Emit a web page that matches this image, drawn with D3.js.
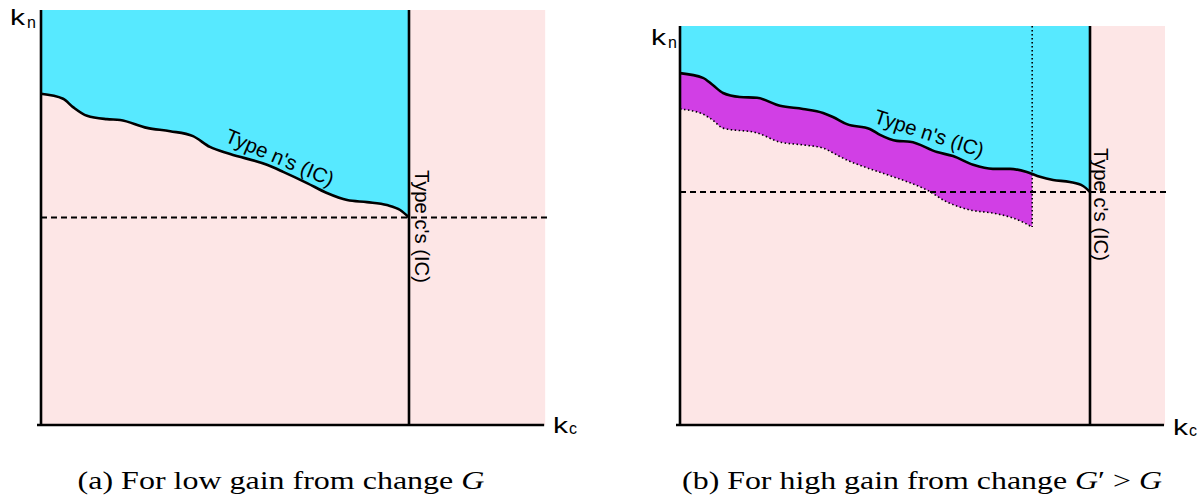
<!DOCTYPE html>
<html>
<head>
<meta charset="utf-8">
<script src="https://cdn.jsdelivr.net/npm/d3@7"></script>
<style>
  body { margin: 0; background: #fff; }
  svg { display: block; }
  .sans { font-family: "Liberation Sans", Arial, Helvetica, sans-serif; }
  .serif { font-family: "Liberation Serif", "Times New Roman", serif; }
</style>
</head>
<body>
<svg id="chart" width="1203" height="502"></svg>
<script>
// panel (a): type n's indifference curve, kc / kn in arbitrary units (IC of type c at kc = 100)
const leftIcKc = [0, 6, 8.7, 12.5, 17.9, 21.5, 28.8, 35.1, 41.3, 45.9, 51.4, 61.4, 65.8, 72.3, 77.7, 83.2, 88.6, 94, 97.6, 100];
const leftIcKn = [79.8, 78.6, 76.6, 74.5, 73.7, 73.5, 71.6, 70.8, 69.6, 67, 65.3, 62.7, 61, 58.3, 55.9, 54.2, 53.7, 53, 51.8, 50];

// panel (b): type n's IC (solid) and the shifted curve under G' (dotted)
const rightIcKc = [0, 5.6, 8, 10.5, 14.6, 18.8, 24.4, 30, 34.9, 37.3, 40.7, 46.3, 48.8, 52.9, 56.1, 62.7, 66.6, 71.5, 76.3, 80.5, 84.6, 87.8, 91, 95.1, 98.3, 100];
const rightIcKn = [88.2, 87, 85.2, 83.2, 82.2, 82, 80, 79.2, 78.2, 77.2, 75.4, 74.2, 72.7, 71.2, 71, 68.4, 67.4, 65.2, 64.2, 64.2, 63.4, 62.2, 61.4, 60.9, 59.9, 58.4];
const shiftedKc = [0, 5.6, 8, 10.5, 18.8, 24.4, 30, 34.9, 37.3, 40.7, 46.3, 52, 56.1, 60.2, 65.1, 70.7, 76.3, 80.5, 83.7, 85.9];
const shiftedKn = [79.2, 77.9, 76.4, 74.4, 73.2, 70.9, 70.2, 69.4, 68.2, 66.4, 64.2, 62.2, 60.7, 58.9, 55.9, 53.9, 53.1, 52.1, 50.8, 49.6];

const typeCKc = 100;          // type c's IC (vertical)
const leftDashKn = 50;        // dashed reference level, panel (a)
const rightDashKn = 58.4;     // dashed reference level, panel (b)
const cutoffKc = 85.9;        // end of the shaded band in panel (b)
const leftMaxKc = 137;
const rightMaxKc = 118.3;

const captions = ["(a) For low gain from change ", "(b) For high gain from change "];

const cyan = "#57e9ff";
const pink = "#fde6e6";
const purple = "#d13fe5";

const svg = d3.select("#chart");

// stretch a text horizontally to a target width (in its own coordinates)
function fitWidth(text, target) {
    const w = text.node().getComputedTextLength();
    return target / w;
}

function drawPanel(o) {
    const x = d3.scaleLinear().domain([0, 100]).range(o.xRange);
    const y = d3.scaleLinear().domain([0, 100]).range(o.yRange);
    const g = svg.append("g");

    const ic = o.kc.map((d, i) => ({kc: d, kn: o.kn[i]}));
    const line = d3.line().x(d => x(d.kc)).y(d => y(d.kn)).curve(d3.curveMonotoneX);
    const area = d3.area().x(d => x(d.kc)).y0(y(100)).y1(d => y(d.kn)).curve(d3.curveMonotoneX);

    g.append("rect")
        .attr("x", x(0)).attr("y", y(100))
        .attr("width", x(o.maxKc) - x(0)).attr("height", y(0) - y(100))
        .attr("fill", pink);

    g.append("path").datum(ic).attr("d", area).attr("fill", cyan);

    if (o.shiftKc) {
        const low = o.shiftKc.map((d, i) => ({kc: d, kn: o.shiftKn[i]}));
        const id = "clip" + o.name;
        g.append("clipPath").attr("id", id).append("rect")
            .attr("x", x(0)).attr("y", y(100))
            .attr("width", x(o.cutoff) - x(0)).attr("height", y(0) - y(100));
        const band = line(ic) + "L" + line(low.slice().reverse()).slice(1) + "Z";
        g.append("path").attr("d", band).attr("fill", purple).attr("clip-path", `url(#${id})`);
        g.append("path").datum(low).attr("d", line)
            .attr("fill", "none").attr("stroke", "#000").attr("stroke-width", 1.6)
            .attr("stroke-dasharray", "1.5,2.5");
        g.append("line")
            .attr("x1", x(o.cutoff)).attr("x2", x(o.cutoff))
            .attr("y1", y(100)).attr("y2", y(low[low.length - 1].kn))
            .attr("stroke", "#000").attr("stroke-width", 1.6).attr("stroke-dasharray", "1.5,2.5");
    }

    g.append("path").datum(ic).attr("d", line)
        .attr("fill", "none").attr("stroke", "#000").attr("stroke-width", 2.6);

    g.append("line")
        .attr("x1", x(0)).attr("x2", x(o.maxKc) + 2)
        .attr("y1", y(o.dashKn)).attr("y2", y(o.dashKn))
        .attr("stroke", "#000").attr("stroke-width", 2).attr("stroke-dasharray", "6,4");

    g.append("line")
        .attr("x1", x(typeCKc)).attr("x2", x(typeCKc))
        .attr("y1", y(100)).attr("y2", y(0))
        .attr("stroke", "#000").attr("stroke-width", 2.6);

    // axes
    const xAxis = d3.axisBottom(x).tickValues([]).tickSizeOuter(0);
    const yAxis = d3.axisLeft(y).tickValues([]).tickSizeOuter(0);
    const xa = g.append("g").attr("transform", `translate(0,${y(0)})`).call(xAxis);
    xa.select(".domain").attr("d", `M${x(0) - 4},0H${x(o.maxKc) - 1}`);
    const ya = g.append("g").attr("transform", `translate(${x(0)},0)`).call(yAxis);
    ya.select(".domain").attr("d", `M0,${y(100)}V${y(0)}`);
    g.selectAll(".domain").attr("stroke", "#000").attr("stroke-width", 2.6);

    // axis names
    const kn = g.append("text").attr("class", "sans").attr("font-size", 22).text("k");
    kn.attr("transform", `translate(${o.knPos[0]},${o.knPos[1]}) scale(${fitWidth(kn, 15)},1)`);
    g.append("text").attr("class", "sans").attr("font-size", 16)
        .attr("x", o.knPos[0] + 17).attr("y", o.knPos[1] + 3).text("n");
    const kc = g.append("text").attr("class", "sans").attr("font-size", 22).text("k");
    kc.attr("transform", `translate(${o.kcPos[0]},${o.kcPos[1]}) scale(${fitWidth(kc, 15)},1)`);
    g.append("text").attr("class", "sans").attr("font-size", 16)
        .attr("x", o.kcPos[0] + 16).attr("y", o.kcPos[1] + 1).text("c");

    // curve labels
    const tn = g.append("text").attr("class", "sans").attr("font-size", 20.5)
        .attr("text-anchor", "middle").text("Type n's (IC)");
    tn.attr("transform", `translate(${o.tnPos[0]},${o.tnPos[1]}) rotate(${o.tnPos[2]}) scale(${fitWidth(tn, o.tnPos[3])},1)`);
    const tc = g.append("text").attr("class", "sans").attr("font-size", 20.5).text("Type c's (IC)");
    tc.attr("transform", `translate(${o.tcPos[0]},${o.tcPos[1]}) rotate(90) scale(${fitWidth(tc, 113)},1)`);

    // caption
    const cap = g.append("text").attr("class", "serif").attr("font-size", 26).attr("text-anchor", "middle");
    cap.append("tspan").text(o.caption);
    cap.append("tspan").attr("font-style", "italic").text("G");
    if (o.name === "b") {
        cap.append("tspan").text("′ > ");
        cap.append("tspan").attr("font-style", "italic").text("G");
    }
    cap.attr("transform", `translate(${o.capPos[0]},${o.capPos[1]}) scale(${fitWidth(cap, o.capPos[2])},1)`);
}

drawPanel({
    name: "a", xRange: [41, 409], yRange: [425, 10], kc: leftIcKc, kn: leftIcKn,
    maxKc: leftMaxKc, dashKn: leftDashKn,
    knPos: [10, 25], kcPos: [553, 433], tnPos: [277, 164, 23, 116], tcPos: [415, 170],
    caption: captions[0], capPos: [281, 489, 407]
});

drawPanel({
    name: "b", xRange: [680, 1090], yRange: [425, 26], kc: rightIcKc, kn: rightIcKn,
    shiftKc: shiftedKc, shiftKn: shiftedKn, cutoff: cutoffKc,
    maxKc: rightMaxKc, dashKn: rightDashKn,
    knPos: [651, 45], kcPos: [1173, 435], tnPos: [927, 140, 18, 114], tcPos: [1094, 148],
    caption: captions[1], capPos: [922, 489, 480]
});
</script>
</body>
</html>
